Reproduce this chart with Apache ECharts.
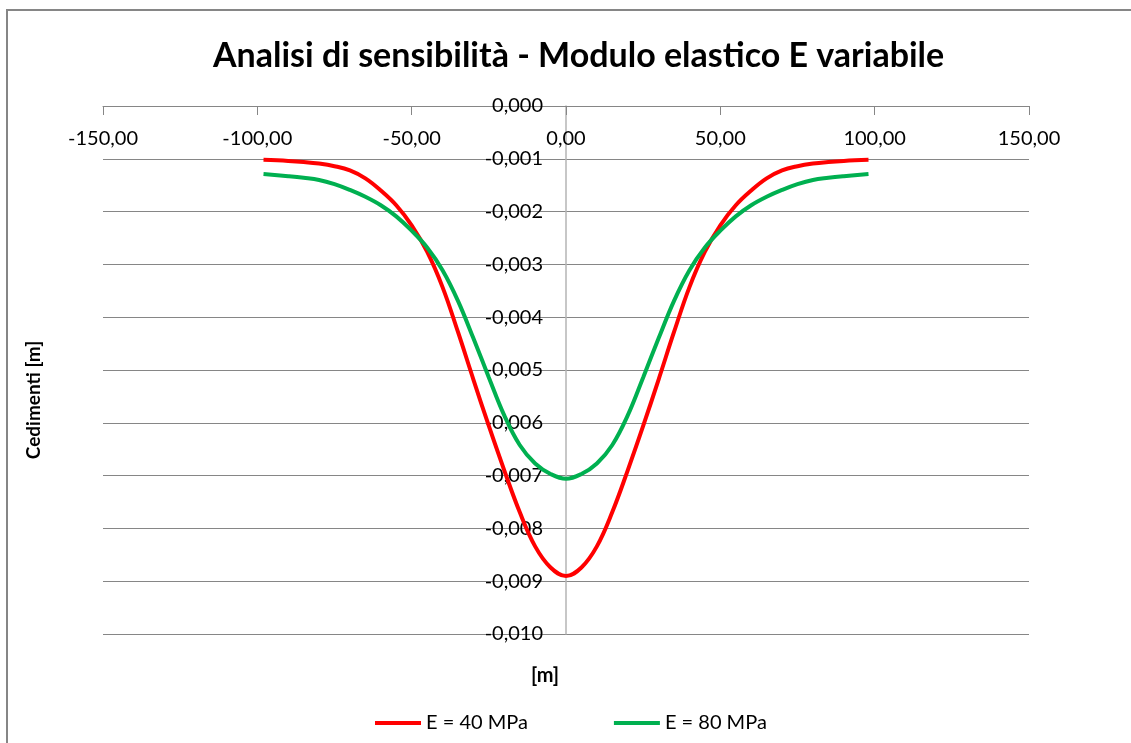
<!DOCTYPE html>
<html>
<head>
<meta charset="utf-8">
<script src="https://cdn.jsdelivr.net/npm/echarts@6/dist/echarts.min.js"></script>
<style>
	html, body {
		margin: 0;
		padding: 0;
		background: #fff;
		overflow: hidden;
	}
	#frame {
		position: absolute;
		left: 6px;
		top: 9px;
		width: 1300px;
		height: 900px;
		border: 2px solid #868686;
	}
	#main {
		position: absolute;
		left: 0;
		top: 0;
		width: 1131px;
		height: 743px;
	}
</style>
</head>
<body>
<div id="frame"></div>
<div id="main"></div>
<script>
	// distanza dall'asse [m]
	var xPos = [-98, -90, -85, -80, -75, -70, -65, -60, -55, -50, -45, -40, -35, -30, -25, -20, -15, -10, -5, 0,
		5, 10, 15, 20, 25, 30, 35, 40, 45, 50, 55, 60, 65, 70, 75, 80, 85, 90, 98];
	// cedimenti [m], E = 40 MPa
	var sett40 = [-0.00102, -0.00104, -0.00106, -0.00109, -0.00114, -0.00122, -0.00137, -0.00160, -0.00188, -0.00226, -0.00276, -0.00343, -0.00428, -0.00518, -0.00606, -0.00690, -0.00769, -0.00834, -0.00874, -0.00890,
		-0.00874, -0.00834, -0.00769, -0.00690, -0.00606, -0.00518, -0.00428, -0.00343, -0.00276, -0.00226, -0.00188, -0.00160, -0.00137, -0.00122, -0.00114, -0.00109, -0.00106, -0.00104, -0.00102];
	// cedimenti [m], E = 80 MPa
	var sett80 = [-0.00129, -0.00133, -0.00136, -0.00140, -0.00148, -0.00159, -0.00172, -0.00188, -0.00209, -0.00236, -0.00268, -0.00311, -0.00369, -0.00440, -0.00514, -0.00586, -0.00642, -0.00677, -0.00697, -0.00706,
		-0.00697, -0.00677, -0.00642, -0.00586, -0.00514, -0.00440, -0.00369, -0.00311, -0.00268, -0.00236, -0.00209, -0.00188, -0.00172, -0.00159, -0.00148, -0.00140, -0.00136, -0.00133, -0.00129];
	var seriesNames = ['E = 40 MPa', 'E = 80 MPa'];

	var font = 'Lato, "Open Sans", sans-serif';
	function pairs(ys) {
		return xPos.map(function (x, i) { return [x, ys[i]]; });
	}
	function comma(v, d) {
		return v.toFixed(d).replace('.', ',');
	}

	var myChart = echarts.init(document.getElementById('main'));
	myChart.setOption({
		animation: false,
		textStyle: { fontFamily: font },
		title: {
			text: 'Analisi di sensibilità - Modulo elastico E variabile',
			left: 208,
			top: 34,
			textStyle: { fontFamily: font, fontSize: 34, fontWeight: 'bold', color: '#000' }
		},
		graphic: [
			{
				type: 'text',
				x: 545,
				y: 676,
				style: { text: '[m]', font: 'bold 20px ' + font, fill: '#000', align: 'center', verticalAlign: 'middle' }
			},
			{
				type: 'text',
				x: 34,
				y: 400,
				rotation: Math.PI / 2,
				style: { text: 'Cedimenti [m]', font: 'bold 19px ' + font, fill: '#000', align: 'center', verticalAlign: 'middle' }
			}
		],
		legend: {
			bottom: 5,
			left: 370,
			icon: 'rect',
			itemWidth: 46,
			itemHeight: 4,
			itemGap: 86,
			textStyle: { fontFamily: font, fontSize: 20, color: '#000' },
			data: seriesNames
		},
		grid: {
			left: 103,
			right: 102,
			top: 106,
			bottom: 109
		},
		xAxis: {
			type: 'value',
			position: 'top',
			min: -150,
			max: 150,
			interval: 50,
			axisLine: { lineStyle: { color: '#868686', width: 1 } },
			axisTick: { inside: true, length: 9, lineStyle: { color: '#868686' } },
			axisLabel: {
				inside: true,
				margin: 23,
				fontSize: 20,
				color: '#000',
				formatter: function (v) { return comma(v, 2); }
			},
			splitLine: { show: false }
		},
		yAxis: {
			type: 'value',
			min: -0.01,
			max: 0,
			interval: 0.001,
			offset: -463,
			axisLine: { onZero: false, lineStyle: { color: '#b4b4b4', width: 1.5 } },
			axisTick: { show: false },
			axisLabel: {
				margin: 23,
				fontSize: 20,
				color: '#000',
				formatter: function (v) { return comma(v, 3); }
			},
			splitLine: { lineStyle: { color: '#868686', width: 1 } }
		},
		series: [
			{
				name: seriesNames[0],
				type: 'line',
				smooth: 0.4,
				symbol: 'none',
				lineStyle: { color: '#ff0000', width: 4 },
				itemStyle: { color: '#ff0000' },
				data: pairs(sett40)
			},
			{
				name: seriesNames[1],
				type: 'line',
				smooth: 0.4,
				symbol: 'none',
				lineStyle: { color: '#00b050', width: 4 },
				itemStyle: { color: '#00b050' },
				data: pairs(sett80)
			}
		]
	});
</script>
</body>
</html>
